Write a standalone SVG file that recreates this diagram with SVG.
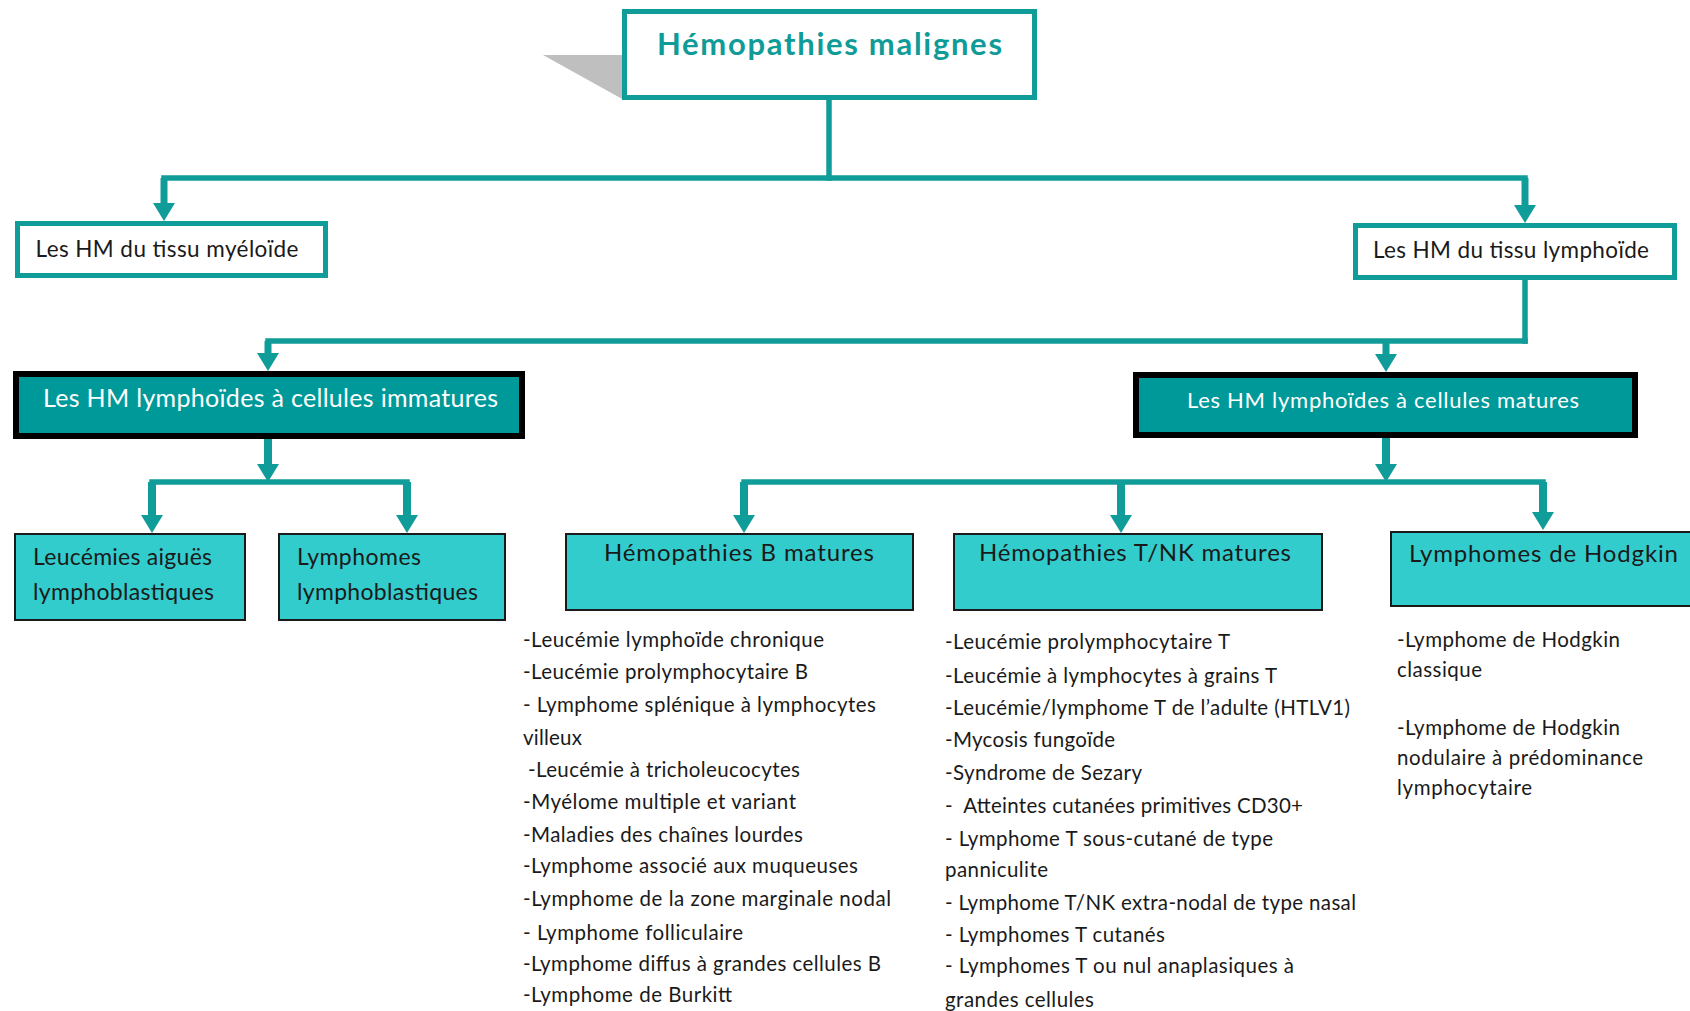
<svg xmlns="http://www.w3.org/2000/svg" width="1690" height="1011" viewBox="0 0 1690 1011">
<style>
  text { font-family: Lato, "Open Sans", "Liberation Sans", sans-serif; fill: #1a1a1a; }
  .title { font-weight: bold; font-size: 31px; fill: #0F9B98; }
  .lbl { font-size: 22.5px; }
  .wlbl { fill: #ffffff; }
  .mid { font-size: 23px; }
  .sub { font-size: 24px; }
  .li { font-size: 20.5px; }
  .wbox { fill: #ffffff; stroke: #109C99; stroke-width: 5; }
  .dbox { fill: #009999; stroke: #000000; stroke-width: 6; }
  .lbox { fill: #33CCCC; stroke: #1a1a1a; stroke-width: 2; }
  .bar { fill: none; stroke: #109C99; stroke-width: 5.5; stroke-linecap: square; }
  .arr { fill: none; stroke: #109C99; stroke-width: 7; marker-end: url(#ah); }
  .arr3 { fill: none; stroke: #109C99; stroke-width: 8; marker-end: url(#ah); }
</style>
<defs>
  <marker id="ah" viewBox="0 0 18 22" refX="9" refY="11" markerWidth="18" markerHeight="22" markerUnits="userSpaceOnUse" orient="auto">
    <path d="M0,0 L18,11 L0,22 z" fill="#109C99"/>
  </marker>
</defs>
<rect width="1690" height="1011" fill="#ffffff"/>

<g id="connectors">
  <path class="bar" d="M829,100 V178"/>
  <path class="bar" d="M164,178 H1525"/>
  <path class="arr" d="M164,178 V212"/>
  <path class="arr" d="M1525,178 V214"/>
  <path class="bar" d="M1525,280 V341"/>
  <path class="bar" d="M268,341 H1525"/>
  <path class="arr" d="M268,341 V362"/>
  <path class="arr" d="M1386,341 V363"/>
  <path class="arr3" d="M268,439 V473"/>
  <path class="bar" d="M152,482 H407"/>
  <path class="arr3" d="M152,482 V524"/>
  <path class="arr3" d="M407,482 V524"/>
  <path class="arr3" d="M1386,438 V473"/>
  <path class="bar" d="M744,482 H1543"/>
  <path class="arr3" d="M744,482 V524"/>
  <path class="arr3" d="M1121,482 V524"/>
  <path class="arr3" d="M1543,482 V521"/>
</g>

<g id="node-root">
  <polygon points="543,55 624,55 624,100" fill="#bfbfbf"/>
  <rect class="wbox" x="624.5" y="11.5" width="410" height="86"/>
  <text class="title" x="829.5" y="55" text-anchor="middle" textLength="345">Hémopathies malignes</text>
</g>

<g id="node-myeloide">
  <rect class="wbox" x="17.5" y="223.5" width="308" height="52"/>
  <text class="lbl" x="35.5" y="257" textLength="263">Les HM du tissu myéloïde</text>
</g>

<g id="node-lymphoide">
  <rect class="wbox" x="1355.5" y="225.5" width="319" height="52"/>
  <text class="lbl" x="1373" y="258" textLength="276">Les HM du tissu lymphoïde</text>
</g>

<g id="node-immatures">
  <rect class="dbox" x="16" y="374" width="506" height="62"/>
  <text class="wlbl" x="43" y="407" font-size="25" textLength="455">Les HM lymphoïdes à cellules immatures</text>
</g>

<g id="node-matures">
  <rect class="dbox" x="1136" y="375" width="499" height="60"/>
  <text class="wlbl" x="1187" y="408" font-size="22" textLength="392">Les HM lymphoïdes à cellules matures</text>
</g>

<g id="node-lal">
  <rect class="lbox" x="15" y="534" width="230" height="86"/>
  <text class="mid" x="33" y="565" textLength="179">Leucémies aiguës</text>
  <text class="mid" x="33" y="600" textLength="181">lymphoblastiques</text>
</g>

<g id="node-ll">
  <rect class="lbox" x="279" y="534" width="226" height="86"/>
  <text class="mid" x="297" y="565" textLength="124">Lymphomes</text>
  <text class="mid" x="297" y="600" textLength="181">lymphoblastiques</text>
</g>

<g id="node-b">
  <rect class="lbox" x="566" y="534" width="347" height="76"/>
  <text class="sub" x="604" y="561" textLength="270">Hémopathies B matures</text>
</g>

<g id="node-tnk">
  <rect class="lbox" x="954" y="534" width="368" height="76"/>
  <text class="sub" x="979" y="561" textLength="312">Hémopathies T/NK matures</text>
</g>

<g id="node-hodgkin">
  <rect class="lbox" x="1391" y="532" width="310" height="74" stroke-width="4"/>
  <text class="sub" x="1409" y="562" textLength="269">Lymphomes de Hodgkin</text>
</g>

<g id="list-b">
  <text class="li" x="523" y="647" textLength="301">-Leucémie lymphoïde chronique</text>
  <text class="li" x="523" y="679" textLength="285">-Leucémie prolymphocytaire B</text>
  <text class="li" x="523" y="712" textLength="353">- Lymphome splénique à lymphocytes</text>
  <text class="li" x="523" y="745" textLength="59">villeux</text>
  <text class="li" x="528" y="777" textLength="272">-Leucémie à tricholeucocytes</text>
  <text class="li" x="523" y="809" textLength="273">-Myélome multiple et variant</text>
  <text class="li" x="523" y="842" textLength="280">-Maladies des chaînes lourdes</text>
  <text class="li" x="523" y="873" textLength="335">-Lymphome associé aux muqueuses</text>
  <text class="li" x="523" y="906" textLength="368">-Lymphome de la zone marginale nodal</text>
  <text class="li" x="523" y="940" textLength="220">- Lymphome folliculaire</text>
  <text class="li" x="523" y="971" textLength="358">-Lymphome diffus à grandes cellules B</text>
  <text class="li" x="523" y="1002" textLength="209">-Lymphome de Burkitt</text>
</g>

<g id="list-tnk">
  <text class="li" x="945" y="649" textLength="285">-Leucémie prolymphocytaire T</text>
  <text class="li" x="945" y="683" textLength="332">-Leucémie à lymphocytes à grains T</text>
  <text class="li" x="945" y="715" textLength="405">-Leucémie/lymphome T de l’adulte (HTLV1)</text>
  <text class="li" x="945" y="747" textLength="170">-Mycosis fungoïde</text>
  <text class="li" x="945" y="780" textLength="197">-Syndrome de Sezary</text>
  <text class="li" x="945" y="813" textLength="358" xml:space="preserve">-  Atteintes cutanées primitives CD30+</text>
  <text class="li" x="945" y="846" textLength="328">- Lymphome T sous-cutané de type</text>
  <text class="li" x="945" y="877" textLength="103">panniculite</text>
  <text class="li" x="945" y="910" textLength="411">- Lymphome T/NK extra-nodal de type nasal</text>
  <text class="li" x="945" y="942" textLength="220">- Lymphomes T cutanés</text>
  <text class="li" x="945" y="973" textLength="349">- Lymphomes T ou nul anaplasiques à</text>
  <text class="li" x="945" y="1007" textLength="149">grandes cellules</text>
</g>

<g id="list-hodgkin">
  <text class="li" x="1397" y="647" textLength="223">-Lymphome de Hodgkin</text>
  <text class="li" x="1397" y="677" textLength="85">classique</text>
  <text class="li" x="1397" y="735" textLength="223">-Lymphome de Hodgkin</text>
  <text class="li" x="1397" y="765" textLength="246">nodulaire à prédominance</text>
  <text class="li" x="1397" y="795" textLength="135">lymphocytaire</text>
</g>
</svg>
